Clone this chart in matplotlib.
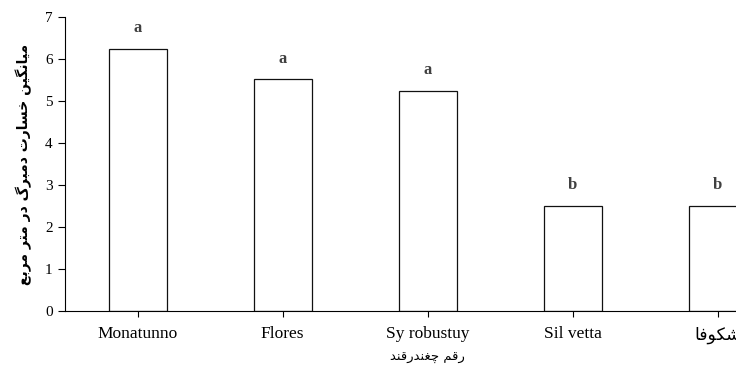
import matplotlib
matplotlib.use("Agg")
import matplotlib.pyplot as plt

# Arabic/Persian contextual forms: (isolated, final, initial, medial); None = no left joining
FORMS = {
    "ا": ("\uFE8D", "\uFE8E", None, None),
    "ب": ("\uFE8F", "\uFE90", "\uFE91", "\uFE92"),
    "ت": ("\uFE95", "\uFE96", "\uFE97", "\uFE98"),
    "خ": ("\uFEA5", "\uFEA6", "\uFEA7", "\uFEA8"),
    "د": ("\uFEA9", "\uFEAA", None, None),
    "ر": ("\uFEAD", "\uFEAE", None, None),
    "س": ("\uFEB1", "\uFEB2", "\uFEB3", "\uFEB4"),
    "ش": ("\uFEB5", "\uFEB6", "\uFEB7", "\uFEB8"),
    "ع": ("\uFEC9", "\uFECA", "\uFECB", "\uFECC"),
    "غ": ("\uFECD", "\uFECE", "\uFECF", "\uFED0"),
    "ف": ("\uFED1", "\uFED2", "\uFED3", "\uFED4"),
    "ق": ("\uFED5", "\uFED6", "\uFED7", "\uFED8"),
    "م": ("\uFEE1", "\uFEE2", "\uFEE3", "\uFEE4"),
    "ن": ("\uFEE5", "\uFEE6", "\uFEE7", "\uFEE8"),
    "و": ("\uFEED", "\uFEEE", None, None),
    "ی": ("\uFBFC", "\uFBFD", "\uFBFE", "\uFBFF"),
    "گ": ("\uFB92", "\uFB93", "\uFB94", "\uFB95"),
    "ک": ("\uFB8E", "\uFB8F", "\uFB90", "\uFB91"),
    "چ": ("\uFB7A", "\uFB7B", "\uFB7C", "\uFB7D"),
}


def shape(text):
    out = []
    n = len(text)
    for i, ch in enumerate(text):
        if ch not in FORMS:
            out.append(ch)
            continue
        prev = text[i - 1] if i > 0 else None
        nxt = text[i + 1] if i < n - 1 else None
        join_prev = prev in FORMS and FORMS[prev][2] is not None
        join_next = nxt in FORMS and FORMS[ch][2] is not None
        iso, fin, ini, med = FORMS[ch]
        if join_prev and join_next:
            out.append(med)
        elif join_prev:
            out.append(fin)
        elif join_next:
            out.append(ini)
        else:
            out.append(iso)
    return "".join(out)[::-1]


cultivars = ["Monatunno", "Flores", "Sy robustuy", "Sil vetta", "شکوفا"]
damage = [6.25, 5.52, 5.25, 2.5, 2.5]
groups = ["a", "a", "a", "b", "b"]
ylabel = "میانگین خسارت دمبرگ در متر مربع"
xlabel = "رقم چغندرقند"

serif = ["Liberation Serif", "DejaVu Sans"]
labels = [shape(c) if not c.isascii() else c for c in cultivars]

fig = plt.figure(figsize=(7.36, 3.67), dpi=100)
ax = fig.add_axes([65 / 736, 56 / 367, 725 / 736, 294 / 367])

x = range(len(cultivars))
ax.bar(x, damage, width=0.4, color="white", edgecolor="#111111", linewidth=0.9)
for xi, v, g in zip(x, damage, groups):
    ax.text(xi, v + 0.3, g, ha="center", va="bottom", fontsize=12,
            fontweight="bold", family="Liberation Serif", color="#404040")

ax.set_xlim(-0.5, 4.5)
ax.set_ylim(0, 7)
ax.set_yticks(range(8))
ax.set_xticks(list(x))
ax.set_xticklabels(labels, family=serif, fontsize=12.5)
for lab in ax.get_yticklabels():
    lab.set_family("Liberation Serif")
    lab.set_fontsize(11)
ax.tick_params(axis="x", direction="out", length=4, pad=7)
ax.tick_params(axis="y", direction="out", length=5, pad=4)
ax.spines["top"].set_visible(False)
ax.spines["right"].set_visible(False)
ax.set_xlabel(shape(xlabel), family="DejaVu Sans", fontsize=9.5, labelpad=5)
ax.set_ylabel(shape(ylabel), family="DejaVu Sans", fontsize=10,
              fontweight="bold", labelpad=9)

fig.savefig("out.png", dpi=100)
